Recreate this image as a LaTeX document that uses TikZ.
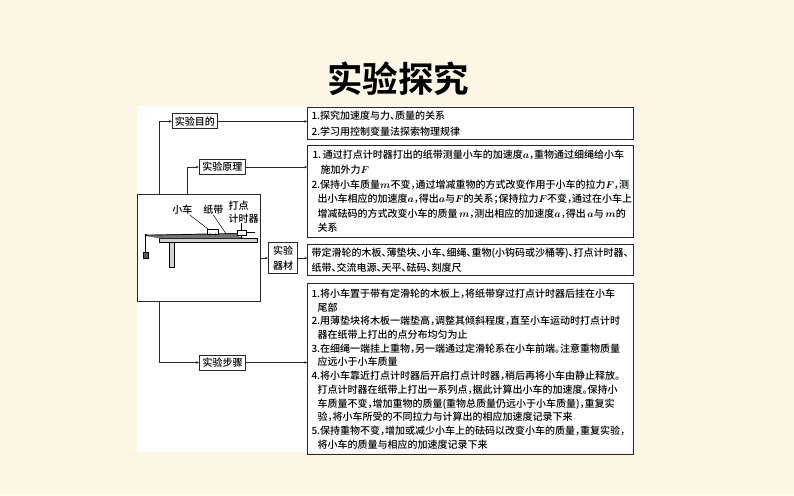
\documentclass[tikz,border=0pt]{standalone}
\usepackage{fontspec}
\setmainfont{Noto Sans CJK SC Medium}[RawFeature={+halt},BoldFont={Noto Sans CJK SC Bold}]
\usetikzlibrary{arrows.meta, positioning}
\definecolor{pagecolor}{RGB}{254,246,229}
\definecolor{linecolor}{RGB}{40,40,40}
\tikzset{
  textbox/.style={
    rectangle,
    draw=linecolor,
    line width=1pt,
    anchor=north west,
    minimum width=325.4pt,
    text width=318pt,
    inner xsep=3.7pt,
    inner ysep=0pt,
    align=left
  },
  labelbox/.style={
    rectangle,
    draw=linecolor,
    line width=0.9pt,
    inner sep=0pt,
    minimum height=15pt,
    align=center,
    font=\fontsize{10}{13}\selectfont
  },
  arrow/.style={
    -{Stealth[length=3pt,width=2.6pt]},
    line width=0.8pt,
    linecolor
  },
  caption/.style={
    inner sep=0pt,
    align=left,
    font=\fontsize{10}{12.5}\selectfont
  },
  part/.style={
    draw=black,
    line width=0.5pt
  }
}

\begin{document}
\begin{tikzpicture}[x=1pt,y=-1pt]
\useasboundingbox (0,0) rectangle (794,495);
\fill[pagecolor] (0,0) rectangle (794,495);
\fill[white] (137,105.5) rectangle (635,451.5);

% Title
\node[font=\fontsize{35.5}{40}\selectfont\bfseries, inner sep=0pt] (title) at (398,79) {实验探究};

% Right column
\node[textbox, minimum height=32pt, font=\fontsize{10}{15.3}\selectfont] (aimtext) at (307.3,107.3) {
  1.探究加速度与力、质量的关系\\
  2.学习用控制变量法探索物理规律
};
\node[textbox, minimum height=91.7pt, below=5pt of aimtext.south west, anchor=north west, font=\fontsize{10}{14.6}\selectfont\boldmath] (theorytext) {
  \hspace*{1pt}1.\,通过打点计时器打出的纸带测量小车的加速度$a$，重物通过细绳给小车\\
  \hspace*{9pt}施加外力$F$\\
  2.保持小车质量$m$不变，通过增减重物的方式改变作用于小车的拉力$F$，测\\
  \hspace*{6pt}出小车相应的加速度$a$，得出$a$与$F$的关系；保持拉力$F$不变，通过在小车上\\
  \hspace*{6pt}增减砝码的方式改变小车的质量\,$m$，测出相应的加速度$a$，得出\,$a$与\,$m$的\\
  \hspace*{6pt}关系
};
\node[textbox, minimum height=31pt, below=5.7pt of theorytext.south west, anchor=north west, font=\fontsize{10}{15}\selectfont] (materialtext) {
  带定滑轮的木板、薄垫块、小车、细绳、重物(小钩码或沙桶等)、打点计时器、\\
  纸带、交流电源、天平、砝码、刻度尺
};
\node[textbox, minimum height=171pt, below=7.3pt of materialtext.south west, anchor=north west, font=\fontsize{10}{13.7}\selectfont] (steptext) {
  1.将小车置于带有定滑轮的木板上，将纸带穿过打点计时器后挂在小车\\
  \hspace*{6pt}尾部\\
  2.用薄垫块将木板一端垫高，调整其倾斜程度，直至小车运动时打点计时\\
  \hspace*{6pt}器在纸带上打出的点分布均匀为止\\
  3.在细绳一端挂上重物，另一端通过定滑轮系在小车前端。注意重物质量\\
  \hspace*{6pt}应远小于小车质量\\
  4.将小车靠近打点计时器后开启打点计时器，稍后再将小车由静止释放。\\
  \hspace*{6pt}打点计时器在纸带上打出一系列点，据此计算出小车的加速度。保持小\\
  \hspace*{6pt}车质量不变，增加重物的质量(重物总质量仍远小于小车质量)，重复实\\
  \hspace*{6pt}验，将小车所受的不同拉力与计算出的相应加速度记录下来\\
  5.保持重物不变，增加或减少小车上的砝码以改变小车的质量，重复实验，\\
  \hspace*{6pt}将小车的质量与相应的加速度记录下来
};

% Left column
\node[rectangle, draw=linecolor, line width=0.9pt, minimum width=123.2pt, minimum height=107.7pt, inner sep=0pt] (apparatus) at (199.1,247.9) {};
\node[labelbox, minimum width=45pt] (aimlabel) at (194.8,121.4) {实验目的};
\node[labelbox, minimum width=46pt] (theorylabel) at (222.3,167) {实验原理};
\node[labelbox, minimum width=46pt] (steplabel) at (222.5,362.5) {实验步骤};
\node[labelbox, minimum width=29.4pt, minimum height=30.6pt, font=\fontsize{10}{15}\selectfont] (materiallabel) at (283,258) {实验\\器材};

% Apparatus
\draw[part, fill=lightgray!70] (159.3,238.7) rectangle (257.7,242.7);
\draw[part, fill=lightgray!70] (169,242.7) rectangle (174.3,267.3);
\fill[black!55] (146,234.7) -- (237.5,233) -- (237.5,236) -- (246,238.3) -- (159,238.3) -- (146,236) -- cycle;
\draw[line width=0.7pt] (146,235.2) -- (237.5,233.6);
\draw[part] (145.7,234.5) -- (145.7,252);
\fill[black] (145.9,235) circle (1.2pt);
\draw[part, fill=black!65] (143.3,252) rectangle (148.3,258);
\draw[part, fill=white] (207.3,229.3) rectangle (218.3,234);
\fill[black] (209.8,234.4) circle (1.1pt) (215.8,234.4) circle (1.1pt);
\draw[part, fill=white] (237.3,230.3) rectangle (246,235.3);
\draw[part] (241.7,235.3) -- (241.7,238.5);
\draw[part] (246,232) -- (255,232);
\node[caption] (cartcap) at (182.3,210) {小车};
\node[caption] (tapecap) at (213.3,210) {纸带};
\node[caption] (timercap) at (243.6,212) {打点\\计时器};
\draw[part] ([xshift=-3pt]cartcap.south east) -- (208.5,229.3);
\draw[part] (tapecap.south) -- (225.7,233.3);
\draw[part] ([xshift=-2pt]timercap.south) -- (241.6,230.3);

% Connectors
\draw[arrow] ([xshift=22.8pt]apparatus.north west) |- (aimlabel.west);
\draw[arrow] ([xshift=50.8pt]apparatus.north west) |- (theorylabel.west);
\draw[arrow] ([xshift=22.8pt]apparatus.south west) |- (steplabel.west);
\draw[arrow] (apparatus.east |- materiallabel) -- (materiallabel.west);
\draw[arrow] (aimlabel.east) -- (aimlabel -| aimtext.west);
\draw[arrow] (theorylabel.east) -- (theorylabel -| theorytext.west);
\draw[arrow] (materiallabel.east) -- (materiallabel -| materialtext.west);
\draw[arrow] (steplabel.east) -- (steplabel -| steptext.west);

\end{tikzpicture}
\end{document}
